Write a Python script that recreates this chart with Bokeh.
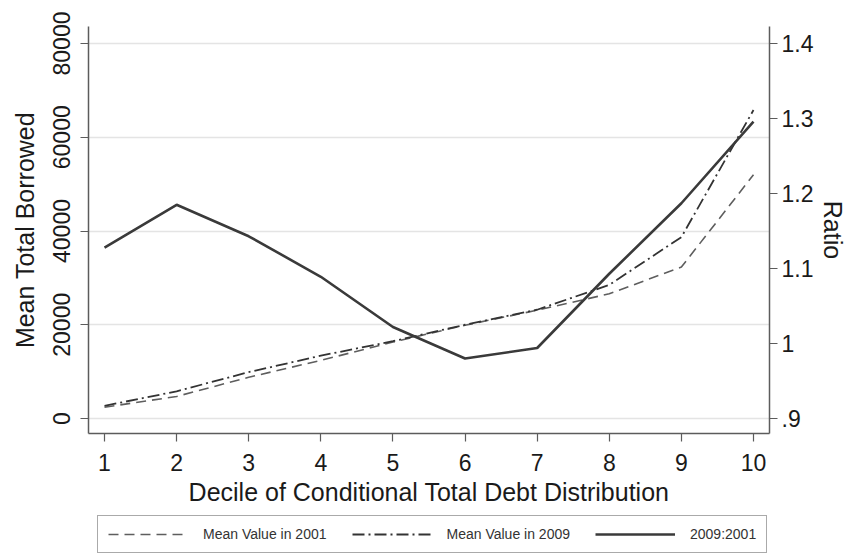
from bokeh.plotting import figure
from bokeh.layouts import column
from bokeh.models import Range1d, LinearAxis, Legend, LegendItem, FixedTicker, ColumnDataSource
from bokeh.embed import file_html
from bokeh.resources import INLINE

# ---- data ----
deciles = [1, 2, 3, 4, 5, 6, 7, 8, 9, 10]
mean_2001 = [2400, 4700, 8800, 12400, 16300, 19900, 23100, 26600, 32300, 52000]
mean_2009 = [2700, 5800, 9900, 13400, 16500, 20000, 23200, 28500, 38700, 65800]
ratio_09_01 = [1.128, 1.185, 1.143, 1.089, 1.022, 0.980, 0.994, 1.093, 1.187, 1.296]

left_ticks = [0, 20000, 40000, 60000, 80000]
right_ticks = [0.9, 1.0, 1.1, 1.2, 1.3, 1.4]
right_tick_labels = [".9", "1", "1.1", "1.2", "1.3", "1.4"]

x_label = "Decile of Conditional Total Debt Distribution"
y_label = "Mean Total Borrowed"
y2_label = "Ratio"
series_names = ["Mean Value in 2001", "Mean Value in 2009", "2009:2001"]

src = ColumnDataSource(dict(x=deciles, m01=mean_2001, m09=mean_2009, r=ratio_09_01))

FONT = "Liberation Sans"
TXT = "#1a1a1a"
AX = "#5c5c5c"

STY_01 = dict(line_color="#5e5e5e", line_width=1.6, line_dash="10 6")
STY_09 = dict(line_color="#333333", line_width=1.8, line_dash="12 4 2 4")
STY_R = dict(line_color="#3a3a3a", line_width=2.6)

W = 850
H1 = 514
H2 = 45
BL, BR = 88, 81

p = figure(width=W, height=H1, output_backend="svg", toolbar_location=None,
           x_range=Range1d(0.778, 10.222), y_range=Range1d(-3200, 83627),
           min_border_left=BL, min_border_right=BR, min_border_top=26,
           min_border_bottom=H1 - 433, background_fill_color="white",
           border_fill_color="white")
p.outline_line_color = None
p.extra_y_ranges = {"ratio": Range1d(0.88, 1.4227)}

# grid
p.xgrid.grid_line_color = None
p.ygrid.grid_line_color = "#e4e4e4"
p.ygrid.grid_line_width = 1.5
p.ygrid.ticker = FixedTicker(ticks=left_ticks)

def style_axis(ax):
    ax.axis_line_color = AX
    ax.axis_line_width = 1.5
    ax.major_tick_line_color = AX
    ax.major_tick_line_width = 1.2
    ax.major_tick_out = 8
    ax.major_tick_in = 0
    ax.minor_tick_line_color = None
    ax.major_label_text_font = FONT
    ax.major_label_text_font_size = "23px"
    ax.major_label_text_color = TXT
    ax.axis_label_text_font = FONT
    ax.axis_label_text_font_size = "25px"
    ax.axis_label_text_font_style = "normal"
    ax.axis_label_text_color = TXT

# x axis
xa = p.xaxis[0]
style_axis(xa)
xa.ticker = FixedTicker(ticks=deciles)
xa.axis_label = x_label
xa.major_label_standoff = 12
xa.axis_label_standoff = 4

# left axis
ya = p.yaxis[0]
style_axis(ya)
ya.ticker = FixedTicker(ticks=left_ticks)
ya.axis_label = y_label
ya.major_label_orientation = "vertical"
ya.major_label_standoff = 10
ya.axis_label_standoff = 12

# right axis
ra = LinearAxis(y_range_name="ratio")
style_axis(ra)
ra.ticker = FixedTicker(ticks=right_ticks)
ra.major_label_overrides = {t: s for t, s in zip(right_ticks, right_tick_labels)}
ra.axis_label = y2_label
ra.major_label_standoff = 4
ra.axis_label_standoff = 3
p.add_layout(ra, "right")

# lines
p.line("x", "m01", source=src, **STY_01)
p.line("x", "m09", source=src, **STY_09)
p.line("x", "r", source=src, y_range_name="ratio", **STY_R)

# ---- legend strip (separate figure so the box is not clipped by the plot frame) ----
# its ranges keep the proxy lines outside the visible frame; only the legend shows
p2 = figure(width=W, height=H2, output_backend="svg", toolbar_location=None,
            x_range=Range1d(100, 101), y_range=Range1d(-10, -9),
            x_axis_type=None, y_axis_type=None,
            min_border_left=BL, min_border_right=BR, min_border_top=0, min_border_bottom=0,
            background_fill_color="white", border_fill_color="white")
p2.outline_line_color = None
p2.xgrid.grid_line_color = None
p2.ygrid.grid_line_color = None
k1 = p2.line("x", "m01", source=src, **STY_01)
k2 = p2.line("x", "m09", source=src, **STY_09)
k3 = p2.line("x", "r", source=src, **STY_R)

legend = Legend(items=[LegendItem(label=series_names[0], renderers=[k1]),
                       LegendItem(label=series_names[1], renderers=[k2]),
                       LegendItem(label=series_names[2], renderers=[k3])],
                orientation="horizontal", location=(97 - BL, 6))
legend.glyph_width = 80
legend.glyph_height = 16
legend.label_standoff = 15
legend.spacing = 25
legend.padding = 10
legend.margin = 0
legend.label_text_font = FONT
legend.label_text_font_size = "14px"
legend.label_text_color = "#333333"
legend.border_line_color = "#555555"
legend.border_line_width = 1.5
legend.background_fill_color = "white"
legend.background_fill_alpha = 1
p2.add_layout(legend)

layout = column(p, p2, spacing=0)
open("out.html", "w").write(file_html(layout, INLINE))
